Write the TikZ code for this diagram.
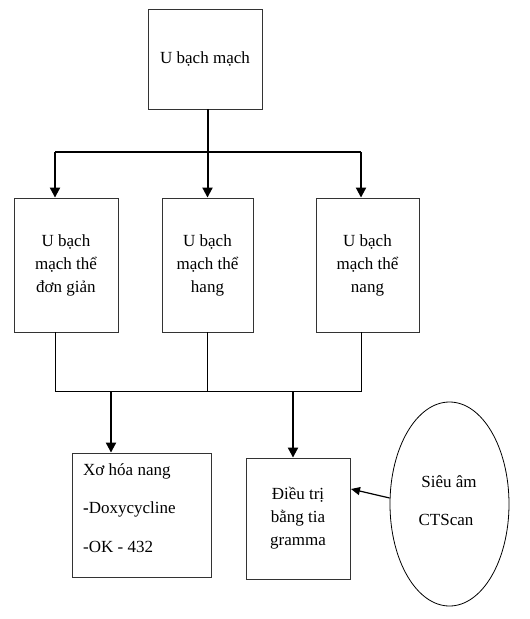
\documentclass[tikz,border=0pt]{standalone}
\usepackage{fontspec}
\setmainfont{Liberation Serif}
\usetikzlibrary{arrows.meta,shapes.geometric}
\begin{document}
\begin{tikzpicture}[x=1pt,y=-1pt,
  box/.style={draw=black!80,line width=0.9pt,rectangle,inner sep=0pt,align=center,
    font=\fontsize{17}{23}\selectfont},
  thin/.style={line width=0.8pt,black},
  thick/.style={line width=2pt,black},
  arr/.style={thick,-{Triangle[width=10pt,length=10pt]}}]
\useasboundingbox (0,0) rectangle (530,619);
\fill[white] (0,0) rectangle (530,619);
\node[box,minimum width=114pt,minimum height=100pt] (top) at (205,59) {U bạch mạch};
\node[box,minimum width=104pt,minimum height=134pt] (b1) at (66,265) {U bạch\\mạch thể\\đơn giản};
\node[box,minimum width=91pt,minimum height=134pt] (b2) at (207.5,265) {U bạch\\mạch thể\\hang};
\node[box,minimum width=103pt,minimum height=134pt] (b3) at (367.5,265) {U bạch\\mạch thể\\nang};
\node[box,minimum width=139pt,minimum height=124pt] (b4) at (141.5,515) {};
\node[font=\fontsize{17}{23}\selectfont,anchor=west,inner sep=0pt] (t4a) at (83,471) {Xơ hóa nang};
\node[font=\fontsize{17}{23}\selectfont,anchor=west,inner sep=0pt] (t4b) at (83,509) {\textbf{-}Doxycycline};
\node[font=\fontsize{17}{23}\selectfont,anchor=west,inner sep=0pt] (t4c) at (83,547) {-OK - 432};
\node[box,minimum width=104pt,minimum height=121pt] (b5) at (298,518.5) {Điều trị\\bằng tia\\gramma};
\node[draw=black,line width=0.8pt,ellipse,minimum width=119pt,minimum height=204pt,inner sep=0pt] (el) at (449.5,504) {};
\node[font=\fontsize{17}{23}\selectfont,inner sep=0pt] (e1) at (449,482) {Siêu âm};
\node[font=\fontsize{17}{23}\selectfont,inner sep=0pt] (e2) at (446,520) {CTScan};
% top connectors
\coordinate (j0) at (207.5,152);
\coordinate (jl) at (55,152);
\coordinate (jr) at (361,152);
\draw[arr] (top.south -| j0) -- (b2.north);
\draw[line width=1.2pt] (jl) -- (jr);
\draw[arr] (jl) -- (jl |- b1.north);
\draw[arr] (jr) -- (jr |- b3.north);
% bottom connectors
\coordinate (kl) at (55,391);
\coordinate (km) at (207.5,391);
\coordinate (kr) at (361,391);
\draw[thin] (b1.south -| kl) -- (kl) -- (kr) -- (b3.south -| kr);
\draw[thin] (b2.south) -- (km);
\coordinate (d4) at (111,391);
\coordinate (d5) at (293,391);
\draw[arr] (d4) -- (d4 |- b4.north);
\draw[arr] (d5) -- (d5 |- b5.north);
% ellipse to box 5
\coordinate (p5) at (351,489);
\draw[line width=1.2pt,-{Triangle[width=8pt,length=9pt]}] (el.west |- 0,498) -- (p5);
\end{tikzpicture}
\end{document}
